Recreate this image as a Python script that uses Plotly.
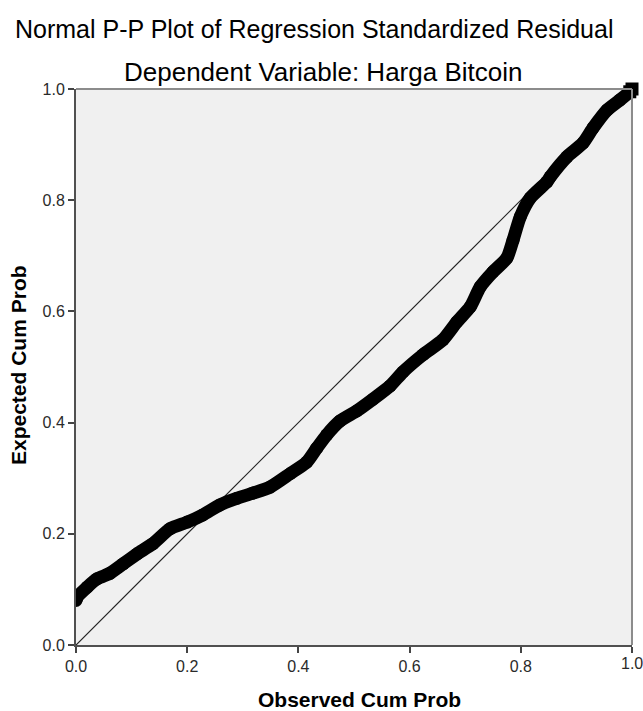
import plotly.graph_objects as go

observed = [0.0, 0.002, 0.020, 0.038, 0.061, 0.085, 0.110, 0.138, 0.169, 0.200, 0.228, 0.259,
            0.290, 0.318, 0.349, 0.385, 0.415, 0.433, 0.451, 0.475, 0.505, 0.534, 0.565,
            0.588, 0.624, 0.660, 0.685, 0.709, 0.727, 0.750, 0.775, 0.786, 0.799, 0.817,
            0.847, 0.853, 0.883, 0.912, 0.930, 0.955, 0.978, 0.996, 1.0]
expected = [0.080, 0.086, 0.104, 0.119, 0.129, 0.146, 0.164, 0.182, 0.209, 0.221, 0.234, 0.252,
            0.264, 0.273, 0.284, 0.308, 0.329, 0.354, 0.378, 0.403, 0.421, 0.442, 0.466,
            0.491, 0.522, 0.549, 0.581, 0.608, 0.644, 0.671, 0.696, 0.728, 0.770, 0.804,
            0.833, 0.842, 0.878, 0.903, 0.930, 0.962, 0.980, 0.995, 1.0]
diag = [0.0, 1.0]
ticks = [0.0, 0.2, 0.4, 0.6, 0.8, 1.0]
tick_text = ["0.0", "0.2", "0.4", "0.6", "0.8", "1.0"]

FONT = "Liberation Sans, Arial, sans-serif"
W, H = 643, 711
L, R, T, B = 76, 11, 89, 66
PW, PH = W - L - R, H - T - B


def px_to_paper(px, py):
    return (px - L) / PW, (H - py - B) / PH


fig = go.Figure()
fig.add_trace(go.Scatter(x=diag, y=diag, mode="lines",
                         line=dict(color="#222222", width=1.2), hoverinfo="skip"))
fig.add_trace(go.Scatter(x=observed, y=expected, mode="lines+markers",
                         line=dict(color="black", width=13, shape="spline", smoothing=0.6),
                         marker=dict(color="black", size=13)))
# end point drawn unclipped (SPSS lets the last marker overflow the frame)
fig.add_trace(go.Scatter(x=observed[-2:], y=expected[-2:], mode="lines+markers", cliponaxis=False,
                         line=dict(color="black", width=13),
                         marker=dict(color="black", size=13, symbol="square")))

axis_common = dict(range=[0, 1], tickvals=ticks, ticktext=tick_text, ticks="outside",
                   ticklen=6, tickwidth=1.5, tickcolor="#444444", showgrid=False,
                   zeroline=False, showline=True, linecolor="#505050", linewidth=2,
                   tickfont=dict(family=FONT, size=16, color="#2a2a2a"), fixedrange=True)

annotations = []
for text, px, py, size, angle, weight in [
    ("Normal P-P Plot of Regression Standardized Residual", 314, 29, 25, 0, None),
    ("Dependent Variable: Harga Bitcoin", 323, 72, 26, 0, None),
    ("<b>Observed Cum Prob</b>", 359, 699, 21, 0, None),
    ("<b>Expected Cum Prob</b>", 18, 365, 21, -90, None),
]:
    x, y = px_to_paper(px, py)
    annotations.append(dict(text=text, x=x, y=y, xref="paper", yref="paper", showarrow=False,
                            xanchor="center", yanchor="middle", textangle=angle,
                            font=dict(family=FONT, size=size, color="black")))

# last x tick label (plotly drops it because it overflows the page edge)
lx, ly = px_to_paper(632, 663)
annotations.append(dict(text=tick_text[-1], x=ticks[-1], y=ly, xref="x", yref="paper",
                        showarrow=False, xanchor="center", yanchor="middle",
                        font=dict(family=FONT, size=16, color="#2a2a2a")))

fig.update_layout(
    width=W, height=H,
    margin=dict(l=L, r=R, t=T, b=B, autoexpand=False),
    paper_bgcolor="white", plot_bgcolor="#f0f0f0",
    showlegend=False,
    xaxis=dict(**axis_common),
    yaxis=dict(**axis_common),
    shapes=[
        dict(type="line", xref="paper", yref="paper", x0=0, x1=1, y0=1, y1=1,
             line=dict(color="#8c8c8c", width=2)),
        dict(type="line", xref="paper", yref="paper", x0=1, x1=1, y0=0, y1=1,
             line=dict(color="#8c8c8c", width=2)),
    ],
    annotations=annotations,
)

fig.write_html("out.html", config={"displayModeBar": False},
               post_script="document.body.style.margin='0';document.body.style.overflow='hidden';")
